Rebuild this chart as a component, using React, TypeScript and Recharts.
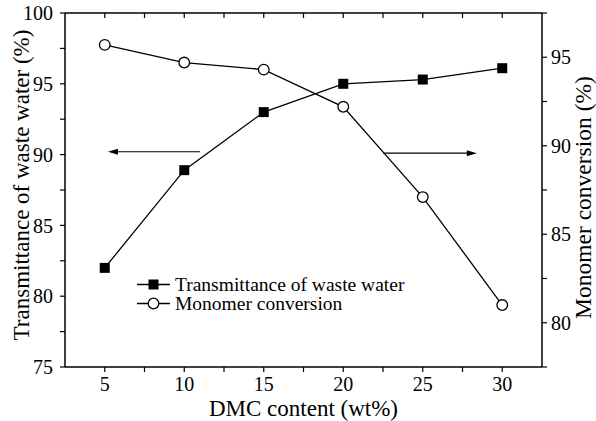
import React from "react";
import { LineChart, Line, XAxis, YAxis, ReferenceLine } from "recharts";

const FONT = '"Liberation Serif", "Times New Roman", serif';

// values
const dmcContent = [5, 10, 15, 20, 25, 30];
const transmittance = [82.0, 88.9, 93.0, 95.0, 95.3, 96.1];
const monomerConversion = [95.7, 94.7, 94.3, 92.2, 87.1, 81.0];

const xTicks = [5, 7.5, 10, 12.5, 15, 17.5, 20, 22.5, 25, 27.5, 30];
const xLabels = [5, 10, 15, 20, 25, 30];
const leftTicks = [75, 77.5, 80, 82.5, 85, 87.5, 90, 92.5, 95, 97.5, 100];
const leftLabels = [75, 80, 85, 90, 95, 100];
const rightTicks = [77.5, 80, 82.5, 85, 87.5, 90, 92.5, 95, 97.5];
const rightLabels = [80, 85, 90, 95];

// arrows pointing to the axis each curve belongs to (data coords)
const leftArrow = [{ x: 11.0, y: 90.2 }, { x: 5.2, y: 90.2 }];
const rightArrow = [{ x: 22.5, y: 90.1 }, { x: 28.4, y: 90.1 }];

const data = dmcContent.map((x, i) => ({
  x,
  transmittance: transmittance[i],
  conversion: monomerConversion[i],
}));

const only = (labels: number[]) => (v: number) => (labels.includes(v) ? String(v) : "");

const tickStyle = { fill: "#000", fontSize: 20, fontFamily: FONT };
const title = (size: number) => ({ fill: "#000", stroke: "none", fontSize: size, fontFamily: FONT });
const axisLine = { stroke: "#000", strokeWidth: 1.5 };
const tickLine = { stroke: "#000", strokeWidth: 1.2 };

const SquareDot = (p: any) => (
  <rect key={`s${p.index}`} x={p.cx - 5} y={p.cy - 5} width={10} height={10} fill="#000" />
);
const CircleDot = (p: any) => (
  <circle key={`c${p.index}`} cx={p.cx} cy={p.cy} r={5.3} fill="#fff" stroke="#000" strokeWidth={1.3} />
);

const Arrow = (p: any) => {
  const { x1, y1, x2, y2 } = p;
  const dir = Math.sign(x2 - x1);
  return (
    <g>
      <line x1={x1} y1={y1} x2={x2 - dir * 5} y2={y2} stroke="#000" strokeWidth={1.2} />
      <polygon
        points={`${x2},${y2} ${x2 - dir * 10},${y2 - 3} ${x2 - dir * 10},${y2 + 3}`}
        fill="#000"
      />
    </g>
  );
};

const legendRows = [
  { name: "Transmittance of waste water", marker: "square" },
  { name: "Monomer conversion", marker: "circle" },
];

export default function App() {
  return (
    <div style={{ position: "absolute", left: 0, top: 0, width: 596, height: 421, background: "#fff" }}>
      <LineChart width={596} height={421} data={data} margin={{ top: 13, right: 0, bottom: 0, left: 0 }}>
        <XAxis
          xAxisId="bottom"
          dataKey="x"
          type="number"
          domain={[2.5, 32.5]}
          ticks={xTicks}
          interval={0}
          tickFormatter={only(xLabels)}
          tick={tickStyle}
          tickSize={5}
          tickMargin={4.5}
          height={54}
          axisLine={axisLine}
          tickLine={tickLine}
          label={{ value: "DMC content (wt%)", position: "center", dy: 13.5, style: title(23) }}
        />
        {/* top frame with inward ticks */}
        <XAxis
          xAxisId="top"
          orientation="top"
          mirror
          dataKey="x"
          type="number"
          domain={[2.5, 32.5]}
          ticks={xTicks}
          interval={0}
          tickFormatter={() => ""}
          tickSize={5}
          height={1}
          axisLine={axisLine}
          tickLine={tickLine}
        />
        <YAxis
          yAxisId="left"
          type="number"
          domain={[75, 100]}
          ticks={leftTicks}
          interval={0}
          tickFormatter={only(leftLabels)}
          tick={tickStyle}
          tickSize={5}
          tickMargin={7}
          width={65}
          axisLine={axisLine}
          tickLine={tickLine}
          label={{
            value: "Transmittance of waste water (%)",
            angle: -90,
            position: "center",
            dx: -11.5,
            dy: -5,
            style: title(23),
          }}
        />
        <YAxis
          yAxisId="right"
          orientation="right"
          type="number"
          domain={[77.5, 97.5]}
          ticks={rightTicks}
          interval={0}
          tickFormatter={only(rightLabels)}
          tick={tickStyle}
          tickSize={5}
          tickMargin={4}
          width={54}
          axisLine={axisLine}
          tickLine={tickLine}
          label={{
            value: "Monomer conversion (%)",
            angle: -90,
            position: "center",
            dx: 14,
            dy: 7.5,
            style: title(23.5),
          }}
        />
        <ReferenceLine xAxisId="bottom" yAxisId="left" segment={leftArrow} shape={Arrow} />
        <ReferenceLine xAxisId="bottom" yAxisId="left" segment={rightArrow} shape={Arrow} />
        {/* invisible series so the top frame axis has something bound to it */}
        <Line
          xAxisId="top"
          yAxisId="left"
          dataKey="transmittance"
          stroke="none"
          dot={false}
          activeDot={false}
          legendType="none"
          isAnimationActive={false}
        />
        <Line
          xAxisId="bottom"
          yAxisId="left"
          dataKey="transmittance"
          stroke="#000"
          strokeWidth={1.3}
          dot={SquareDot}
          activeDot={false}
          isAnimationActive={false}
        />
        <Line
          xAxisId="bottom"
          yAxisId="right"
          dataKey="conversion"
          stroke="#000"
          strokeWidth={1.3}
          dot={CircleDot}
          activeDot={false}
          isAnimationActive={false}
        />
      </LineChart>
      <div
        style={{
          position: "absolute",
          left: 135,
          top: 275,
          fontFamily: FONT,
          fontSize: 19.5,
          lineHeight: "19px",
          color: "#000",
        }}
      >
        {legendRows.map((r) => (
          <div key={r.name} style={{ display: "flex", alignItems: "center", height: 19 }}>
            <svg width={38} height={19} style={{ display: "block" }}>
              <line x1={2} y1={9.5} x2={35} y2={9.5} stroke="#000" strokeWidth={1.3} />
              {r.marker === "square" ? (
                <rect x={13.5} y={4.5} width={10} height={10} fill="#000" />
              ) : (
                <circle cx={18.5} cy={9.5} r={5.3} fill="#fff" stroke="#000" strokeWidth={1.3} />
              )}
            </svg>
            <span style={{ marginLeft: 2, whiteSpace: "nowrap" }}>{r.name}</span>
          </div>
        ))}
      </div>
    </div>
  );
}
